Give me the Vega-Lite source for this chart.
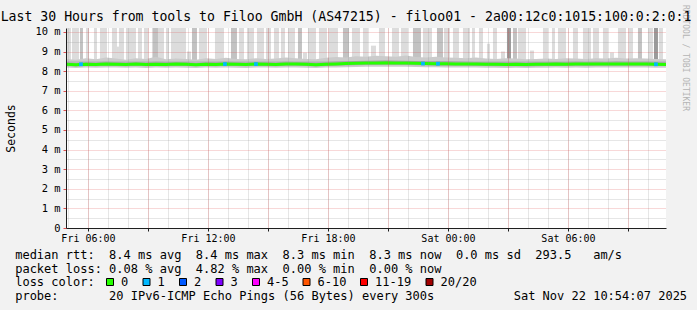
{
  "$schema": "https://vega.github.io/schema/vega-lite/v6.json",
  "width": 600,
  "height": 200,
  "autosize": {"type": "none"},
  "padding": {"left": 66, "top": 28, "right": 31, "bottom": 82},
  "background": "#f2f2f2",
  "config": {
    "view": {"fill": "white", "stroke": null},
    "axis": {"labelFont": "DejaVu Sans Mono", "titleFont": "DejaVu Sans Mono", "titleFontWeight": "normal", "labelColor": "black", "titleColor": "black"}
  },
  "title": {
    "text": "Last 30 Hours from tools to Filoo GmbH (AS47215) - filoo01 - 2a00:12c0:1015:100:0:2:0:1",
    "anchor": "middle",
    "frame": "group",
    "font": "DejaVu Sans Mono",
    "fontSize": 13.2,
    "fontWeight": "normal",
    "color": "black",
    "baseline": "alphabetic",
    "offset": 0,
    "dx": -20,
    "dy": 30
  },
  "datasets": {
    "spikes": [
      {"a": "2025-11-21T04:57", "b": "2025-11-21T05:09", "lo": 8.5, "hi": 10.2, "s": "l"},
      {"a": "2025-11-21T05:12", "b": "2025-11-21T05:33", "lo": 8.5, "hi": 10.2, "s": "l"},
      {"a": "2025-11-21T05:54", "b": "2025-11-21T06:03", "lo": 8.5, "hi": 10.2, "s": "l"},
      {"a": "2025-11-21T06:18", "b": "2025-11-21T06:27", "lo": 8.5, "hi": 10.2, "s": "l"},
      {"a": "2025-11-21T06:36", "b": "2025-11-21T06:57", "lo": 8.5, "hi": 10.2, "s": "l"},
      {"a": "2025-11-21T07:12", "b": "2025-11-21T07:27", "lo": 8.5, "hi": 10.2, "s": "l"},
      {"a": "2025-11-21T07:27", "b": "2025-11-21T07:33", "lo": 8.5, "hi": 9.25, "s": "l"},
      {"a": "2025-11-21T07:33", "b": "2025-11-21T07:48", "lo": 8.5, "hi": 10.2, "s": "l"},
      {"a": "2025-11-21T07:54", "b": "2025-11-21T08:24", "lo": 8.5, "hi": 10.2, "s": "l"},
      {"a": "2025-11-21T08:30", "b": "2025-11-21T08:42", "lo": 8.5, "hi": 10.2, "s": "l"},
      {"a": "2025-11-21T08:48", "b": "2025-11-21T09:00", "lo": 8.5, "hi": 10.2, "s": "l"},
      {"a": "2025-11-21T09:12", "b": "2025-11-21T09:48", "lo": 8.5, "hi": 10.2, "s": "l"},
      {"a": "2025-11-21T09:54", "b": "2025-11-21T10:03", "lo": 8.5, "hi": 10.2, "s": "l"},
      {"a": "2025-11-21T10:09", "b": "2025-11-21T10:54", "lo": 8.5, "hi": 10.2, "s": "l"},
      {"a": "2025-11-21T10:57", "b": "2025-11-21T11:09", "lo": 8.5, "hi": 9.0, "s": "l"},
      {"a": "2025-11-21T11:33", "b": "2025-11-21T11:57", "lo": 8.5, "hi": 10.2, "s": "l"},
      {"a": "2025-11-21T12:21", "b": "2025-11-21T12:48", "lo": 8.5, "hi": 10.2, "s": "l"},
      {"a": "2025-11-21T13:33", "b": "2025-11-21T13:48", "lo": 8.5, "hi": 10.2, "s": "l"},
      {"a": "2025-11-21T13:57", "b": "2025-11-21T14:18", "lo": 8.5, "hi": 10.2, "s": "l"},
      {"a": "2025-11-21T14:27", "b": "2025-11-21T14:48", "lo": 8.5, "hi": 10.2, "s": "l"},
      {"a": "2025-11-21T14:54", "b": "2025-11-21T15:09", "lo": 8.5, "hi": 10.2, "s": "l"},
      {"a": "2025-11-21T15:18", "b": "2025-11-21T15:33", "lo": 8.5, "hi": 10.2, "s": "l"},
      {"a": "2025-11-21T15:39", "b": "2025-11-21T15:51", "lo": 8.5, "hi": 10.2, "s": "l"},
      {"a": "2025-11-21T16:00", "b": "2025-11-21T16:21", "lo": 8.5, "hi": 10.2, "s": "l"},
      {"a": "2025-11-21T16:45", "b": "2025-11-21T16:57", "lo": 8.5, "hi": 8.95, "s": "l"},
      {"a": "2025-11-21T17:00", "b": "2025-11-21T17:24", "lo": 8.5, "hi": 10.2, "s": "l"},
      {"a": "2025-11-21T17:33", "b": "2025-11-21T17:57", "lo": 8.5, "hi": 10.2, "s": "l"},
      {"a": "2025-11-21T18:03", "b": "2025-11-21T18:30", "lo": 8.5, "hi": 10.2, "s": "l"},
      {"a": "2025-11-21T19:12", "b": "2025-11-21T19:36", "lo": 8.5, "hi": 10.2, "s": "l"},
      {"a": "2025-11-21T19:45", "b": "2025-11-21T20:00", "lo": 8.5, "hi": 10.2, "s": "l"},
      {"a": "2025-11-21T20:09", "b": "2025-11-21T20:24", "lo": 8.5, "hi": 9.3, "s": "l"},
      {"a": "2025-11-21T20:33", "b": "2025-11-21T20:51", "lo": 8.5, "hi": 10.2, "s": "l"},
      {"a": "2025-11-21T21:12", "b": "2025-11-21T21:33", "lo": 8.5, "hi": 10.2, "s": "l"},
      {"a": "2025-11-21T21:39", "b": "2025-11-21T22:00", "lo": 8.5, "hi": 10.2, "s": "l"},
      {"a": "2025-11-21T22:45", "b": "2025-11-21T23:12", "lo": 8.5, "hi": 10.2, "s": "l"},
      {"a": "2025-11-21T23:48", "b": "2025-11-22T00:06", "lo": 8.5, "hi": 10.2, "s": "l"},
      {"a": "2025-11-22T00:15", "b": "2025-11-22T00:33", "lo": 8.5, "hi": 10.2, "s": "l"},
      {"a": "2025-11-22T00:45", "b": "2025-11-22T01:06", "lo": 8.5, "hi": 10.2, "s": "l"},
      {"a": "2025-11-22T01:12", "b": "2025-11-22T01:21", "lo": 8.5, "hi": 10.2, "s": "l"},
      {"a": "2025-11-22T01:33", "b": "2025-11-22T01:45", "lo": 8.5, "hi": 10.2, "s": "l"},
      {"a": "2025-11-22T01:57", "b": "2025-11-22T02:06", "lo": 8.5, "hi": 9.4, "s": "l"},
      {"a": "2025-11-22T02:15", "b": "2025-11-22T02:27", "lo": 8.5, "hi": 10.2, "s": "l"},
      {"a": "2025-11-22T02:39", "b": "2025-11-22T02:51", "lo": 8.5, "hi": 9.0, "s": "l"},
      {"a": "2025-11-22T03:30", "b": "2025-11-22T03:54", "lo": 8.5, "hi": 10.2, "s": "l"},
      {"a": "2025-11-22T04:06", "b": "2025-11-22T04:18", "lo": 8.5, "hi": 9.05, "s": "l"},
      {"a": "2025-11-22T04:45", "b": "2025-11-22T05:00", "lo": 8.5, "hi": 10.2, "s": "l"},
      {"a": "2025-11-22T05:12", "b": "2025-11-22T05:21", "lo": 8.5, "hi": 10.2, "s": "l"},
      {"a": "2025-11-22T05:30", "b": "2025-11-22T05:54", "lo": 8.5, "hi": 10.2, "s": "l"},
      {"a": "2025-11-22T06:15", "b": "2025-11-22T06:30", "lo": 8.5, "hi": 10.2, "s": "l"},
      {"a": "2025-11-22T06:45", "b": "2025-11-22T07:09", "lo": 8.5, "hi": 10.2, "s": "l"},
      {"a": "2025-11-22T07:15", "b": "2025-11-22T07:33", "lo": 8.5, "hi": 10.2, "s": "l"},
      {"a": "2025-11-22T07:45", "b": "2025-11-22T08:00", "lo": 8.5, "hi": 10.2, "s": "l"},
      {"a": "2025-11-22T08:06", "b": "2025-11-22T08:18", "lo": 8.5, "hi": 8.95, "s": "l"},
      {"a": "2025-11-22T08:30", "b": "2025-11-22T08:54", "lo": 8.5, "hi": 10.2, "s": "l"},
      {"a": "2025-11-22T09:03", "b": "2025-11-22T09:15", "lo": 8.5, "hi": 10.2, "s": "l"},
      {"a": "2025-11-22T10:00", "b": "2025-11-22T10:15", "lo": 8.5, "hi": 10.2, "s": "l"},
      {"a": "2025-11-22T10:33", "b": "2025-11-22T10:45", "lo": 8.5, "hi": 10.2, "s": "l"},
      {"a": "2025-11-21T05:36", "b": "2025-11-21T05:45", "lo": 8.5, "hi": 10.2, "s": "d"},
      {"a": "2025-11-21T09:15", "b": "2025-11-21T09:30", "lo": 8.5, "hi": 10.2, "s": "d"},
      {"a": "2025-11-21T11:12", "b": "2025-11-21T11:27", "lo": 8.5, "hi": 10.2, "s": "d"},
      {"a": "2025-11-21T13:09", "b": "2025-11-21T13:27", "lo": 8.5, "hi": 10.2, "s": "d"},
      {"a": "2025-11-21T16:30", "b": "2025-11-21T16:42", "lo": 8.5, "hi": 10.2, "s": "d"},
      {"a": "2025-11-21T18:45", "b": "2025-11-21T19:03", "lo": 8.5, "hi": 10.2, "s": "d"},
      {"a": "2025-11-21T22:15", "b": "2025-11-21T22:39", "lo": 8.5, "hi": 10.2, "s": "d"},
      {"a": "2025-11-21T23:27", "b": "2025-11-21T23:45", "lo": 8.5, "hi": 10.2, "s": "d"},
      {"a": "2025-11-22T03:15", "b": "2025-11-22T03:27", "lo": 8.5, "hi": 10.2, "s": "d"},
      {"a": "2025-11-22T09:30", "b": "2025-11-22T09:42", "lo": 8.5, "hi": 10.2, "s": "d"},
      {"a": "2025-11-22T02:57", "b": "2025-11-22T03:09", "lo": 8.5, "hi": 10.2, "s": "x"},
      {"a": "2025-11-22T10:18", "b": "2025-11-22T10:30", "lo": 8.5, "hi": 10.2, "s": "x"}
    ],
    "ts": [
      {"t": "2025-11-21T04:54", "lo": 8.18, "ml": 8.26, "m": 8.35, "mh": 8.46, "hi": 8.62},
      {"t": "2025-11-21T05:24", "lo": 8.16, "ml": 8.24, "m": 8.33, "mh": 8.44, "hi": 8.58},
      {"t": "2025-11-21T05:54", "lo": 8.18, "ml": 8.26, "m": 8.35, "mh": 8.47, "hi": 8.66},
      {"t": "2025-11-21T06:24", "lo": 8.17, "ml": 8.25, "m": 8.34, "mh": 8.45, "hi": 8.6},
      {"t": "2025-11-21T06:54", "lo": 8.19, "ml": 8.27, "m": 8.36, "mh": 8.48, "hi": 8.7},
      {"t": "2025-11-21T07:24", "lo": 8.18, "ml": 8.26, "m": 8.35, "mh": 8.46, "hi": 8.64},
      {"t": "2025-11-21T07:54", "lo": 8.17, "ml": 8.25, "m": 8.34, "mh": 8.45, "hi": 8.58},
      {"t": "2025-11-21T08:24", "lo": 8.18, "ml": 8.27, "m": 8.36, "mh": 8.47, "hi": 8.66},
      {"t": "2025-11-21T08:54", "lo": 8.16, "ml": 8.25, "m": 8.34, "mh": 8.45, "hi": 8.62},
      {"t": "2025-11-21T09:24", "lo": 8.18, "ml": 8.26, "m": 8.35, "mh": 8.48, "hi": 8.74},
      {"t": "2025-11-21T09:54", "lo": 8.17, "ml": 8.25, "m": 8.34, "mh": 8.46, "hi": 8.6},
      {"t": "2025-11-21T10:24", "lo": 8.18, "ml": 8.27, "m": 8.36, "mh": 8.47, "hi": 8.64},
      {"t": "2025-11-21T10:54", "lo": 8.17, "ml": 8.26, "m": 8.35, "mh": 8.46, "hi": 8.62},
      {"t": "2025-11-21T11:24", "lo": 8.16, "ml": 8.25, "m": 8.33, "mh": 8.44, "hi": 8.58},
      {"t": "2025-11-21T11:54", "lo": 8.18, "ml": 8.26, "m": 8.35, "mh": 8.47, "hi": 8.66},
      {"t": "2025-11-21T12:24", "lo": 8.17, "ml": 8.25, "m": 8.34, "mh": 8.46, "hi": 8.62},
      {"t": "2025-11-21T12:54", "lo": 8.18, "ml": 8.27, "m": 8.36, "mh": 8.48, "hi": 8.68},
      {"t": "2025-11-21T13:24", "lo": 8.17, "ml": 8.26, "m": 8.35, "mh": 8.46, "hi": 8.62},
      {"t": "2025-11-21T13:54", "lo": 8.16, "ml": 8.25, "m": 8.34, "mh": 8.45, "hi": 8.6},
      {"t": "2025-11-21T14:24", "lo": 8.18, "ml": 8.27, "m": 8.36, "mh": 8.47, "hi": 8.66},
      {"t": "2025-11-21T14:54", "lo": 8.18, "ml": 8.26, "m": 8.35, "mh": 8.46, "hi": 8.62},
      {"t": "2025-11-21T15:24", "lo": 8.17, "ml": 8.25, "m": 8.34, "mh": 8.45, "hi": 8.64},
      {"t": "2025-11-21T15:54", "lo": 8.19, "ml": 8.27, "m": 8.37, "mh": 8.48, "hi": 8.7},
      {"t": "2025-11-21T16:24", "lo": 8.18, "ml": 8.27, "m": 8.36, "mh": 8.47, "hi": 8.66},
      {"t": "2025-11-21T16:54", "lo": 8.17, "ml": 8.26, "m": 8.35, "mh": 8.46, "hi": 8.62},
      {"t": "2025-11-21T17:24", "lo": 8.16, "ml": 8.24, "m": 8.33, "mh": 8.45, "hi": 8.6},
      {"t": "2025-11-21T17:54", "lo": 8.18, "ml": 8.26, "m": 8.35, "mh": 8.47, "hi": 8.68},
      {"t": "2025-11-21T18:24", "lo": 8.19, "ml": 8.28, "m": 8.37, "mh": 8.49, "hi": 8.72},
      {"t": "2025-11-21T18:54", "lo": 8.2, "ml": 8.29, "m": 8.39, "mh": 8.5, "hi": 8.7},
      {"t": "2025-11-21T19:24", "lo": 8.21, "ml": 8.3, "m": 8.4, "mh": 8.52, "hi": 8.76},
      {"t": "2025-11-21T19:54", "lo": 8.22, "ml": 8.31, "m": 8.41, "mh": 8.53, "hi": 8.74},
      {"t": "2025-11-21T20:24", "lo": 8.22, "ml": 8.31, "m": 8.42, "mh": 8.54, "hi": 8.78},
      {"t": "2025-11-21T20:54", "lo": 8.23, "ml": 8.32, "m": 8.43, "mh": 8.55, "hi": 8.76},
      {"t": "2025-11-21T21:24", "lo": 8.22, "ml": 8.31, "m": 8.42, "mh": 8.54, "hi": 8.74},
      {"t": "2025-11-21T21:54", "lo": 8.22, "ml": 8.31, "m": 8.41, "mh": 8.53, "hi": 8.8},
      {"t": "2025-11-21T22:24", "lo": 8.21, "ml": 8.3, "m": 8.4, "mh": 8.52, "hi": 8.72},
      {"t": "2025-11-21T22:54", "lo": 8.2, "ml": 8.29, "m": 8.39, "mh": 8.51, "hi": 8.7},
      {"t": "2025-11-21T23:24", "lo": 8.2, "ml": 8.28, "m": 8.38, "mh": 8.5, "hi": 8.74},
      {"t": "2025-11-21T23:54", "lo": 8.19, "ml": 8.28, "m": 8.38, "mh": 8.5, "hi": 8.7},
      {"t": "2025-11-22T00:24", "lo": 8.19, "ml": 8.27, "m": 8.37, "mh": 8.49, "hi": 8.68},
      {"t": "2025-11-22T00:54", "lo": 8.18, "ml": 8.27, "m": 8.36, "mh": 8.48, "hi": 8.66},
      {"t": "2025-11-22T01:24", "lo": 8.18, "ml": 8.26, "m": 8.36, "mh": 8.47, "hi": 8.7},
      {"t": "2025-11-22T01:54", "lo": 8.17, "ml": 8.26, "m": 8.35, "mh": 8.47, "hi": 8.64},
      {"t": "2025-11-22T02:24", "lo": 8.17, "ml": 8.25, "m": 8.35, "mh": 8.46, "hi": 8.62},
      {"t": "2025-11-22T02:54", "lo": 8.16, "ml": 8.25, "m": 8.34, "mh": 8.46, "hi": 8.66},
      {"t": "2025-11-22T03:24", "lo": 8.17, "ml": 8.25, "m": 8.35, "mh": 8.47, "hi": 8.64},
      {"t": "2025-11-22T03:54", "lo": 8.16, "ml": 8.24, "m": 8.34, "mh": 8.45, "hi": 8.6},
      {"t": "2025-11-22T04:24", "lo": 8.17, "ml": 8.25, "m": 8.35, "mh": 8.46, "hi": 8.62},
      {"t": "2025-11-22T04:54", "lo": 8.17, "ml": 8.26, "m": 8.35, "mh": 8.47, "hi": 8.64},
      {"t": "2025-11-22T05:24", "lo": 8.18, "ml": 8.26, "m": 8.36, "mh": 8.47, "hi": 8.62},
      {"t": "2025-11-22T05:54", "lo": 8.17, "ml": 8.26, "m": 8.35, "mh": 8.46, "hi": 8.66},
      {"t": "2025-11-22T06:24", "lo": 8.18, "ml": 8.27, "m": 8.36, "mh": 8.48, "hi": 8.64},
      {"t": "2025-11-22T06:54", "lo": 8.17, "ml": 8.26, "m": 8.36, "mh": 8.47, "hi": 8.62},
      {"t": "2025-11-22T07:24", "lo": 8.18, "ml": 8.27, "m": 8.37, "mh": 8.48, "hi": 8.66},
      {"t": "2025-11-22T07:54", "lo": 8.18, "ml": 8.27, "m": 8.36, "mh": 8.47, "hi": 8.64},
      {"t": "2025-11-22T08:24", "lo": 8.19, "ml": 8.28, "m": 8.37, "mh": 8.49, "hi": 8.68},
      {"t": "2025-11-22T08:54", "lo": 8.18, "ml": 8.27, "m": 8.37, "mh": 8.48, "hi": 8.64},
      {"t": "2025-11-22T09:24", "lo": 8.18, "ml": 8.27, "m": 8.36, "mh": 8.48, "hi": 8.66},
      {"t": "2025-11-22T09:54", "lo": 8.18, "ml": 8.27, "m": 8.37, "mh": 8.48, "hi": 8.64},
      {"t": "2025-11-22T10:24", "lo": 8.17, "ml": 8.26, "m": 8.35, "mh": 8.47, "hi": 8.62},
      {"t": "2025-11-22T10:55", "lo": 8.17, "ml": 8.26, "m": 8.34, "mh": 8.46, "hi": 8.6}
    ],
    "loss": [
      {"t": "2025-11-21T05:39", "m": 8.35, "loss": "1"},
      {"t": "2025-11-21T12:51", "m": 8.36, "loss": "1"},
      {"t": "2025-11-21T14:24", "m": 8.36, "loss": "1"},
      {"t": "2025-11-21T22:45", "m": 8.39, "loss": "1"},
      {"t": "2025-11-21T23:30", "m": 8.38, "loss": "1"},
      {"t": "2025-11-22T10:24", "m": 8.35, "loss": "1"}
    ]
  },
  "layer": [
    {
      "data": {"name": "spikes"},
      "mark": {"type": "rect", "clip": true},
      "encoding": {
        "x": {"field": "a", "type": "temporal",
          "scale": {"domain": [{"year": 2025, "month": 11, "date": 21, "hours": 4, "minutes": 54, "seconds": 7}, {"year": 2025, "month": 11, "date": 22, "hours": 10, "minutes": 54, "seconds": 7}], "nice": false},
          "axis": {"orient": "bottom", "grid": true, "gridColor": "#8f8f8f", "gridOpacity": 0.45, "gridDash": [1, 1],
            "values": [
              {"year": 2025, "month": 11, "date": 21, "hours": 5}, {"year": 2025, "month": 11, "date": 21, "hours": 6},
              {"year": 2025, "month": 11, "date": 21, "hours": 7}, {"year": 2025, "month": 11, "date": 21, "hours": 8},
              {"year": 2025, "month": 11, "date": 21, "hours": 9}, {"year": 2025, "month": 11, "date": 21, "hours": 10},
              {"year": 2025, "month": 11, "date": 21, "hours": 11}, {"year": 2025, "month": 11, "date": 21, "hours": 12},
              {"year": 2025, "month": 11, "date": 21, "hours": 13}, {"year": 2025, "month": 11, "date": 21, "hours": 14},
              {"year": 2025, "month": 11, "date": 21, "hours": 15}, {"year": 2025, "month": 11, "date": 21, "hours": 16},
              {"year": 2025, "month": 11, "date": 21, "hours": 17}, {"year": 2025, "month": 11, "date": 21, "hours": 18},
              {"year": 2025, "month": 11, "date": 21, "hours": 19}, {"year": 2025, "month": 11, "date": 21, "hours": 20},
              {"year": 2025, "month": 11, "date": 21, "hours": 21}, {"year": 2025, "month": 11, "date": 21, "hours": 22},
              {"year": 2025, "month": 11, "date": 21, "hours": 23}, {"year": 2025, "month": 11, "date": 22, "hours": 0},
              {"year": 2025, "month": 11, "date": 22, "hours": 1}, {"year": 2025, "month": 11, "date": 22, "hours": 2},
              {"year": 2025, "month": 11, "date": 22, "hours": 3}, {"year": 2025, "month": 11, "date": 22, "hours": 4},
              {"year": 2025, "month": 11, "date": 22, "hours": 5}, {"year": 2025, "month": 11, "date": 22, "hours": 6},
              {"year": 2025, "month": 11, "date": 22, "hours": 7}, {"year": 2025, "month": 11, "date": 22, "hours": 8},
              {"year": 2025, "month": 11, "date": 22, "hours": 9}, {"year": 2025, "month": 11, "date": 22, "hours": 10}
            ],
            "labels": false, "ticks": false, "domain": false, "title": null, "zindex": 1}},
        "x2": {"field": "b"},
        "y": {"field": "lo", "type": "quantitative",
          "scale": {"domain": [0, 10.2], "nice": false},
          "axis": {"orient": "left", "grid": true, "gridColor": "#8f8f8f", "gridOpacity": 0.45, "gridDash": [1, 1], "values": [0.5, 1.5, 2.5, 3.5, 4.5, 5.5, 6.5, 7.5, 8.5, 9.5], "labels": false, "ticks": false, "domain": false, "title": null, "zindex": 1}},
        "y2": {"field": "hi"},
        "fill": {"field": "s", "type": "nominal", "scale": {"domain": ["l", "d", "x"], "range": ["#dcdcdc", "#c2c2c2", "#9a9a9a"]}, "legend": null}
      }
    },
    {
      "data": {"name": "ts"},
      "mark": {"type": "area", "color": "#cbcbcb", "clip": true},
      "encoding": {
        "x": {"field": "t", "type": "temporal",
          "axis": {"orient": "bottom", "grid": true, "gridColor": "#de4f4f", "gridOpacity": 0.45, "gridDash": [1, 1],
            "values": [
              {"year": 2025, "month": 11, "date": 21, "hours": 6}, {"year": 2025, "month": 11, "date": 21, "hours": 9},
              {"year": 2025, "month": 11, "date": 21, "hours": 12}, {"year": 2025, "month": 11, "date": 21, "hours": 15},
              {"year": 2025, "month": 11, "date": 21, "hours": 18}, {"year": 2025, "month": 11, "date": 21, "hours": 21},
              {"year": 2025, "month": 11, "date": 22, "hours": 0}, {"year": 2025, "month": 11, "date": 22, "hours": 3},
              {"year": 2025, "month": 11, "date": 22, "hours": 6}, {"year": 2025, "month": 11, "date": 22, "hours": 9}
            ],
            "labelExpr": "hours(datum.value) % 6 == 0 ? timeFormat(datum.value, '%a %H:%M') : ''",
            "labelFontSize": 10, "labelPadding": 2, "labelOverlap": false, "labelFlush": false, "labelBound": false,
            "tickSize": 3, "tickColor": "#1f1f1f", "domainColor": "#1f1f1f",
            "title": [
              "median rtt:\u00a0\u00a08.4 ms avg\u00a0\u00a08.4 ms max\u00a0\u00a08.3 ms min\u00a0\u00a08.3 ms now\u00a0\u00a00.0 ms sd\u00a0\u00a0293.5\u00a0\u00a0\u00a0am/s",
              "packet loss: 0.08 % avg\u00a0\u00a04.82 % max\u00a0\u00a00.00 % min\u00a0\u00a00.00 % now",
              "loss color:",
              "probe:\u00a0\u00a0\u00a0\u00a0\u00a0\u00a0\u00a020 IPv6-ICMP Echo Pings (56 Bytes) every 300s\u00a0\u00a0\u00a0\u00a0\u00a0\u00a0\u00a0\u00a0\u00a0\u00a0\u00a0Sat Nov 22 10:54:07 2025"
            ],
            "titleFontSize": 12, "titleAnchor": "start", "titleAlign": "left", "titleBaseline": "alphabetic",
            "titleX": -51.3, "titleY": 30.5, "titleLineHeight": 13.5, "zindex": 1}},
        "y": {"field": "lo", "type": "quantitative",
          "axis": {"orient": "left", "grid": true, "gridColor": "#de4f4f", "gridOpacity": 0.45, "gridDash": [1, 1],
            "values": [0, 1, 2, 3, 4, 5, 6, 7, 8, 9, 10],
            "labelExpr": "datum.value == 0 ? '0' : datum.value + ' m'",
            "labelFontSize": 10.4, "labelPadding": 3, "tickSize": 3, "tickColor": "#de4f4f", "domainColor": "#1f1f1f",
            "title": "Seconds", "titleFontSize": 11.5, "titleAngle": 270, "titleX": -55, "titleY": 100, "titleAlign": "center", "titleBaseline": "middle", "zindex": 1}},
        "y2": {"field": "hi"}
      }
    },
    {
      "data": {"name": "ts"},
      "mark": {"type": "area", "color": "#aaaaaa", "clip": true},
      "encoding": {
        "x": {"field": "t", "type": "temporal", "axis": null},
        "y": {"field": "ml", "type": "quantitative",
          "axis": {"orient": "right", "labels": false, "ticks": false, "domain": false, "grid": false,
            "title": "RRDTOOL / TOBI OETIKER", "titleAngle": 90, "titleFontSize": 8, "titleColor": "#b4b4b4",
            "titleX": 18, "titleY": 29.5, "titleAlign": "center", "titleBaseline": "middle"}},
        "y2": {"field": "mh"}
      }
    },
    {
      "data": {"name": "ts"},
      "mark": {"type": "line", "color": "#26ff00", "strokeWidth": 3, "clip": true},
      "encoding": {
        "x": {"field": "t", "type": "temporal", "axis": null},
        "y": {"field": "m", "type": "quantitative", "axis": null}
      }
    },
    {
      "data": {"name": "loss"},
      "mark": {"type": "square", "size": 14, "opacity": 1},
      "encoding": {
        "x": {"field": "t", "type": "temporal", "axis": null},
        "y": {"field": "m", "type": "quantitative", "axis": null},
        "color": {"field": "loss", "type": "nominal",
          "scale": {"domain": ["0", "1", "2", "3", "4-5", "6-10", "11-19", "20/20"], "range": ["#26ff00", "#00b8ff", "#0059ff", "#7e00ff", "#ff00ff", "#ff5500", "#ff0000", "#a10000"]},
          "legend": {"orient": "none", "legendX": 38, "legendY": 248, "direction": "horizontal", "title": null,
            "symbolType": "square", "symbolSize": 49, "symbolStrokeColor": "black", "symbolStrokeWidth": 1, "symbolOpacity": 1,
            "labelFont": "DejaVu Sans Mono", "labelFontSize": 12, "labelColor": "black", "labelOffset": 5,
            "columnPadding": 11.5, "padding": 0, "offset": 0}}
      }
    }
  ],
  "resolve": {"axis": {"x": "independent", "y": "independent"}}
}
